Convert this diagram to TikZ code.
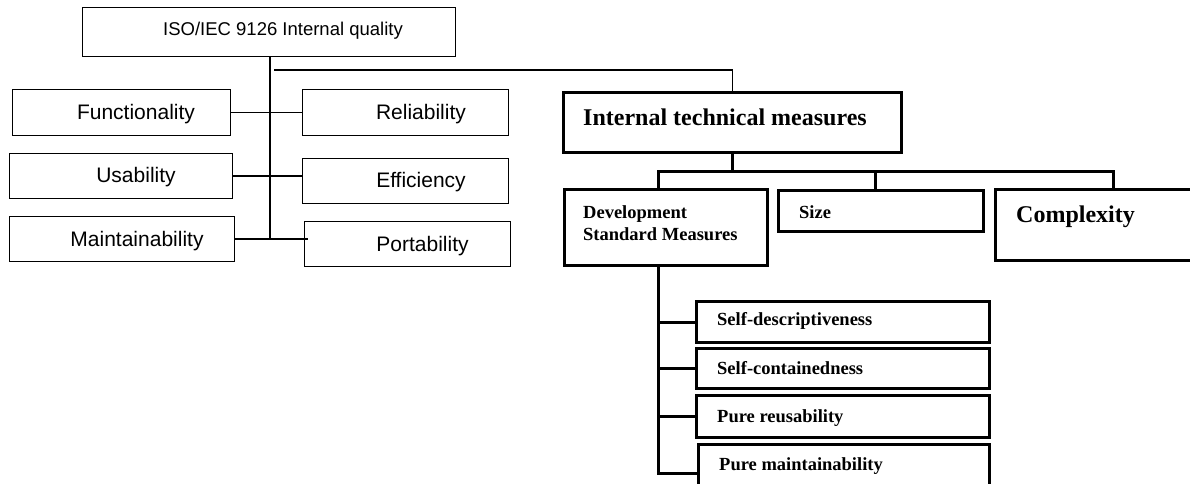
\documentclass[tikz,border=0pt]{standalone}
\usepackage{fontspec}
\setmainfont{Liberation Serif}
\newfontfamily\arialfont{Liberation Sans}
\begin{document}
\begin{tikzpicture}[x=1pt,y=-1pt,
  thinbox/.style={draw,line width=1.3pt,inner sep=0pt,anchor=north west},
  thickbox/.style={draw,line width=3pt,inner sep=0pt,anchor=north west},
  thinline/.style={line width=1.4pt},
  thickline/.style={line width=3pt},
  sanslabel/.style={inner sep=0pt,anchor=base,font=\arialfont\fontsize{21}{25}\selectfont},
  isolabel/.style={inner sep=0pt,anchor=base,font=\arialfont\fontsize{18.5}{22}\selectfont},
  biglabel/.style={inner sep=0pt,anchor=base west,font=\bfseries\fontsize{24}{28}\selectfont},
  smalllabel/.style={inner sep=0pt,anchor=base west,font=\bfseries\fontsize{18.5}{22}\selectfont},
]
\clip (0,0) rectangle (1190,484);
\fill[white] (0,0) rectangle (1190,484);

% ---------- left part: ISO/IEC 9126 ----------
\node[thinbox,minimum width=373pt,minimum height=49pt] (iso) at (82,7) {};
\node[isolabel] (isot) at (283,36) {ISO/IEC 9126 Internal quality};

\node[thinbox,minimum width=218pt,minimum height=46pt] (func) at (12,89) {};
\node[sanslabel] (funct) at (136,120) {Functionality};
\node[thinbox,minimum width=206pt,minimum height=46pt] (rel) at (302,89) {};
\node[sanslabel] (relt) at (421,120) {Reliability};

\node[thinbox,minimum width=223pt,minimum height=45pt] (usab) at (9,153) {};
\node[sanslabel] (usabt) at (136,182) {Usability};
\node[thinbox,minimum width=206pt,minimum height=45pt] (eff) at (302,158) {};
\node[sanslabel] (efft) at (421,187) {Efficiency};

\node[thinbox,minimum width=225pt,minimum height=45pt] (maint) at (9,216) {};
\node[sanslabel] (maintt) at (137,246) {Maintainability};
\node[thinbox,minimum width=206pt,minimum height=45pt] (port) at (304,221) {};
\node[sanslabel] (portt) at (422.5,251) {Portability};

\coordinate (trunkend) at (270,240);
\draw[thinline] (iso.south -| trunkend) -- (trunkend);
\draw[thinline] (func.east) -- (func.east -| rel.west);
\draw[thinline] (usab.east) -- (usab.east -| eff.west);
\draw[thinline] (maint.east) -- ([xshift=4pt]maint.east -| port.west);

% ---------- right part: internal technical measures ----------
\node[thickbox,minimum width=338pt,minimum height=60pt] (itm) at (562,91) {};
\node[biglabel] (itmt) at (583,125.5) {Internal technical measures};

\coordinate (hstart) at (274,70);
\draw[thinline] (hstart) -- (hstart -| itm.north) -- (itm.north);

\node[thickbox,minimum width=203pt,minimum height=76pt] (dev) at (563,188) {};
\node[smalllabel] (devt1) at (583,218) {Development};
\node[smalllabel] (devt2) at (583,240) {Standard Measures};
\node[thickbox,minimum width=205pt,minimum height=41pt] (size) at (777,189) {};
\node[smalllabel] (sizet) at (799,218) {Size};
\node[thickbox,minimum width=210pt,minimum height=71pt] (cplx) at (994,188) {};
\node[biglabel] (cplxt) at (1016,222.5) {Complexity};

\coordinate (busL) at (658,171);
\coordinate (busS) at (875,171);
\coordinate (busR) at (1113,171);
\draw[thickline] (itm.south) -- (itm.south |- busL);
\draw[thickline,line join=miter] (dev.north -| busL) -- (busL) -- (busR) -- (busR |- cplx.north);
\draw[thickline] (busS) -- (busS |- size.north);

\node[thickbox,minimum width=293pt,minimum height=41pt] (sd) at (695,300) {};
\node[smalllabel] (sdt) at (717,325.5) {Self-descriptiveness};
\node[thickbox,minimum width=293pt,minimum height=40pt] (sc) at (695,347) {};
\node[smalllabel] (sct) at (717,374) {Self-containedness};
\node[thickbox,minimum width=293pt,minimum height=42pt] (pr) at (695,394) {};
\node[smalllabel] (prt) at (717,422.5) {Pure reusability};
\node[thickbox,minimum width=291pt,minimum height=50pt] (pm) at (697,443) {};
\node[smalllabel] (pmt) at (719,470) {Pure maintainability};

\coordinate (stemend) at (658,473);
\draw[thickline,line join=miter] (dev.south -| stemend) -- (stemend) -- (stemend -| pm.west);
\draw[thickline] (sd.west -| stemend) -- (sd.west);
\draw[thickline] (sc.west -| stemend) -- (sc.west);
\draw[thickline] (pr.west -| stemend) -- (pr.west);
\end{tikzpicture}
\end{document}
